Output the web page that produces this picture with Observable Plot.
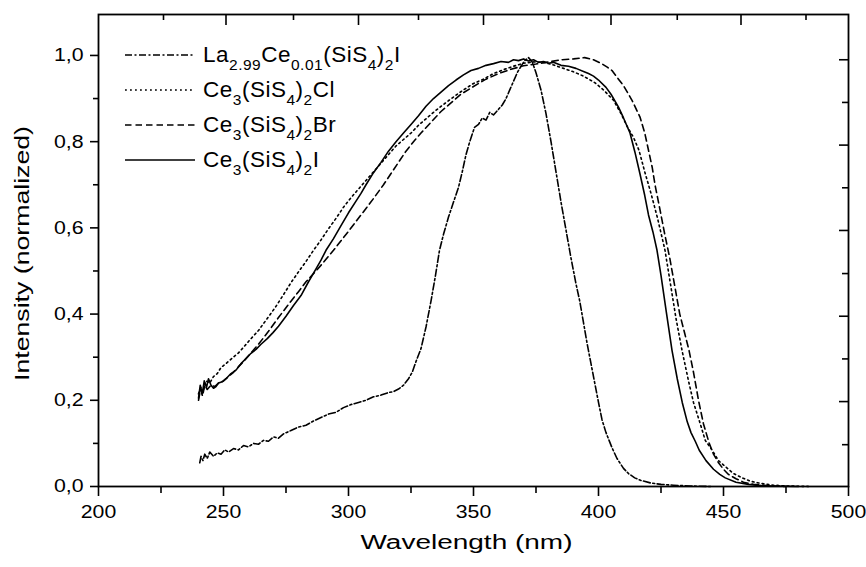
<!DOCTYPE html>
<html><head><meta charset="utf-8">
<script src="https://cdn.jsdelivr.net/npm/d3@7"></script>
<script src="https://cdn.jsdelivr.net/npm/@observablehq/plot@0.6"></script>
<style>
body{margin:0;background:#fff;}
#wrap{position:relative;width:866px;height:567px;font-family:"Liberation Sans",Arial,sans-serif;color:#000;}
.row{position:absolute;left:125px;height:36px;display:flex;align-items:center;font-size:22.5px;letter-spacing:0.5px;white-space:nowrap;}
.row svg{margin-right:8px;flex:none}
.row sub{font-size:15.5px;position:relative;top:8px;vertical-align:baseline;line-height:0}
</style></head><body><div id="wrap"></div>
<script>
// ---- tick values ----
const xMajor = [200, 250, 300, 350, 400, 450, 500];
const xMinor = [225, 275, 325, 375, 425, 475];
const yMajor = [0, 0.2, 0.4, 0.6, 0.8, 1.0];
const yMinor = [0.1, 0.3, 0.5, 0.7, 0.9];
const topMajor = [251, 304, 354, 405, 457];
const topMinor = [226, 278, 328, 380, 431.5, 483];
const rightMajor = [0.197, 0.395, 0.594, 0.792, 0.99];
const rightMinor = [0.097, 0.296, 0.494, 0.693, 0.891];

// ---- titles ----
const xTitle = "Wavelength (nm)";
const yTitle = "Intensity (normalized)";

// ---- series names (legend) ----
const legendLabels = [
  "La<sub>2.99</sub>Ce<sub>0.01</sub>(SiS<sub>4</sub>)<sub>2</sub>I",
  "Ce<sub>3</sub>(SiS<sub>4</sub>)<sub>2</sub>Cl",
  "Ce<sub>3</sub>(SiS<sub>4</sub>)<sub>2</sub>Br",
  "Ce<sub>3</sub>(SiS<sub>4</sub>)<sub>2</sub>I"
];

// ---- series values [wavelength nm, normalized intensity] ----
const laCe = [[240.5,0.055],[241,0.07],[241.8,0.06],[242.5,0.075],[243.5,0.065],[244.5,0.08],[246,0.07],[247.5,0.078],[249,0.075],[250.5,0.085],[252,0.08],[254,0.088],[256,0.085],[258,0.095],[260,0.092],[262,0.1],[264,0.098],[266,0.107],[268,0.105],[270,0.115],[272,0.112],[274,0.122],[277,0.13],[280,0.138],[283,0.142],[286,0.152],[289,0.16],[292,0.168],[295,0.172],[298,0.183],[301,0.19],[304,0.195],[307,0.2],[310,0.208],[313,0.212],[316,0.218],[318,0.22],[320,0.226],[322,0.235],[324,0.25],[325.5,0.265],[327,0.29],[329,0.32],[331,0.37],[333,0.43],[334.8,0.49],[336.4,0.548],[338,0.585],[340,0.625],[342,0.66],[344,0.694],[345.5,0.73],[347,0.77],[348.5,0.8],[350.4,0.833],[352,0.84],[353.5,0.855],[355,0.85],[356.5,0.868],[358,0.862],[360,0.875],[361.5,0.885],[363,0.9],[364.5,0.92],[366,0.94],[367.5,0.96],[369,0.975],[370.5,0.988],[372,0.995],[373.5,0.985],[375,0.96],[377,0.92],[379,0.865],[381,0.8],[383,0.73],[385,0.66],[387,0.595],[389,0.53],[391,0.47],[392.5,0.43],[394,0.38],[395.5,0.33],[397,0.285],[398.5,0.24],[400,0.195],[401.4,0.155],[403,0.125],[405.4,0.09],[407.4,0.065],[410,0.042],[412,0.03],[414.5,0.02],[417,0.014],[421,0.008],[425,0.005],[430,0.003],[437,0.001],[445,0]];

const ceCl = [[240,0.215],[241,0.23],[242,0.225],[243,0.245],[244.5,0.24],[246,0.255],[247.5,0.262],[249,0.276],[251,0.285],[253.5,0.298],[256,0.31],[258,0.323],[261,0.343],[264,0.362],[267.8,0.392],[271,0.418],[274,0.445],[277,0.473],[280,0.498],[283,0.522],[286,0.548],[289,0.572],[292,0.598],[295,0.622],[298,0.648],[301,0.67],[304,0.69],[307,0.71],[310,0.73],[313,0.75],[316,0.77],[319,0.79],[322,0.805],[325,0.82],[328,0.838],[331,0.853],[334,0.868],[337,0.882],[340,0.895],[343,0.908],[346,0.92],[350,0.935],[354,0.945],[358,0.958],[362,0.967],[366,0.975],[370,0.982],[374,0.985],[378,0.984],[382,0.978],[386,0.97],[390,0.962],[394,0.952],[398.5,0.937],[402,0.92],[406,0.896],[409,0.865],[411.5,0.835],[414,0.81],[416.2,0.78],[418.5,0.73],[421,0.68],[423.5,0.625],[425.4,0.578],[426.6,0.548],[428.5,0.48],[431,0.39],[433.4,0.316],[436,0.245],[438,0.195],[440.3,0.153],[442.7,0.107],[445.5,0.084],[448,0.06],[451,0.045],[454,0.03],[457.5,0.02],[461,0.012],[465,0.007],[470,0.003],[476,0.001],[485,0]];

const ceBr = [[240,0.2],[240.8,0.225],[241.6,0.21],[242.5,0.235],[243.5,0.225],[245,0.235],[246.5,0.232],[248,0.24],[250,0.245],[252,0.255],[254,0.265],[256,0.278],[258,0.29],[261,0.31],[264,0.33],[268,0.36],[272,0.392],[277,0.43],[280,0.452],[283,0.475],[287,0.5],[290,0.52],[294,0.548],[297,0.57],[300,0.592],[303,0.615],[307,0.645],[310,0.668],[314,0.7],[317,0.726],[320,0.752],[323,0.778],[326,0.8],[329,0.82],[333,0.845],[337,0.87],[341,0.89],[345,0.91],[350,0.928],[355,0.945],[360,0.958],[365,0.968],[370,0.976],[375,0.98],[380,0.985],[385,0.99],[390,0.992],[394.5,0.995],[398,0.99],[401,0.982],[403.5,0.973],[405.4,0.965],[408,0.945],[410,0.93],[413.4,0.896],[416.6,0.857],[418.5,0.82],[420,0.78],[421.5,0.74],[422.6,0.7],[424.5,0.645],[426.5,0.585],[428.5,0.53],[430.5,0.465],[432.5,0.4],[434.5,0.355],[436.2,0.316],[438,0.265],[440,0.2],[442,0.145],[444.3,0.1],[446,0.075],[448,0.055],[450,0.04],[452,0.028],[455,0.018],[458,0.01],[462,0.005],[467,0.002],[475,0]];

const ceI = [[240,0.205],[240.7,0.235],[241.5,0.215],[242.3,0.245],[243.2,0.23],[244,0.25],[245,0.235],[246,0.228],[247,0.232],[248,0.24],[249.5,0.243],[251,0.25],[253,0.262],[255,0.27],[257,0.285],[259,0.297],[261,0.309],[263,0.318],[265,0.33],[267.5,0.343],[269.8,0.357],[272,0.372],[275,0.395],[278,0.42],[281,0.443],[284,0.475],[287,0.505],[289,0.525],[291,0.548],[294,0.575],[297,0.605],[300,0.635],[303,0.662],[305,0.68],[307,0.7],[310,0.728],[313,0.752],[316,0.778],[319,0.8],[322,0.82],[325,0.84],[328,0.86],[331,0.882],[334,0.9],[337,0.915],[340,0.93],[343,0.943],[346,0.955],[349,0.965],[352,0.97],[355,0.977],[358,0.981],[361,0.986],[364,0.984],[366,0.99],[368,0.988],[370,0.992],[372,0.987],[374,0.99],[376,0.984],[378,0.986],[380,0.982],[382,0.984],[385,0.977],[388,0.975],[391,0.97],[394,0.963],[396,0.958],[398,0.952],[400,0.943],[403,0.926],[405,0.91],[408,0.88],[410,0.855],[412.6,0.82],[414.6,0.775],[416.6,0.725],[418.5,0.675],[420,0.63],[421.8,0.59],[423.4,0.548],[425,0.49],[427,0.41],[429.4,0.316],[431.5,0.25],[433.5,0.195],[435.5,0.15],[437,0.125],[438.7,0.105],[440.3,0.084],[443,0.06],[446,0.04],[448.5,0.028],[450.7,0.02],[455,0.01],[460,0.005],[465,0.002],[470,0.001],[480,0]];

// ---- styles ----
const seriesList = [laCe, ceCl, ceBr, ceI];
const dashStyles = ["7,2.5,2,2.5", "1.8,3.2", "6.5,4", "none"];
const lineWidth = 1.6;

const W = 866, H = 567, mL = 98, mR = 18, mT = 14, mB = 81;
const innerW = W - mL - mR, innerH = H - mT - mB;
const fmt = d => d.toFixed(1).replace(".", ",");
const tickFont = 18.5;
const tickStretch = 1.15;

const plot = Plot.plot({
  width: W, height: H,
  marginLeft: mL, marginRight: mR, marginTop: mT, marginBottom: mB,
  style: {fontFamily: '"Liberation Sans", Arial, sans-serif', fontSize: tickFont + "px", color: "#000", background: "#fff"},
  x: {domain: [200, 500]},
  y: {domain: [0, 1.095]},
  marks: [
    ...seriesList.map((s, i) => Plot.line(s, {x: d => d[0], y: d => d[1], stroke: "#000", strokeWidth: lineWidth, strokeDasharray: dashStyles[i]})),
    Plot.frame({stroke: "#000", strokeWidth: 1.8}),
    Plot.axisX(xMajor, {tickSize: 10, tickPadding: 8, fontSize: tickFont, strokeWidth: 1.6, tickFormat: d => String(d), label: null}),
    Plot.axisX(xMinor, {tickSize: 7, strokeWidth: 1.6, tickFormat: () => "", label: null}),
    Plot.axisY(yMajor, {tickSize: 8, tickPadding: 7, fontSize: tickFont, strokeWidth: 1.6, tickFormat: fmt, label: null}),
    Plot.axisY(yMinor, {tickSize: 5, strokeWidth: 1.6, tickFormat: () => "", label: null}),
    Plot.tickX(topMajor, {x: d => d, insetBottom: innerH - 11, stroke: "#000", strokeWidth: 1.6}),
    Plot.tickX(topMinor, {x: d => d, insetBottom: innerH - 6, stroke: "#000", strokeWidth: 1.6}),
    Plot.tickY(rightMajor, {y: d => d, insetLeft: innerW - 9, stroke: "#000", strokeWidth: 1.6}),
    Plot.tickY(rightMinor, {y: d => d, insetLeft: innerW - 6, stroke: "#000", strokeWidth: 1.6}),
    Plot.text([xTitle], {text: d => d, frameAnchor: "bottom", textAnchor: "middle", lineAnchor: "bottom", dy: 62, dx: -7, fontSize: 20}),
    Plot.text([yTitle], {text: d => d, frameAnchor: "left", textAnchor: "middle", rotate: -90, lineAnchor: "middle", dx: -76, dy: 3, fontSize: 20})
  ]
});
const wrap = document.getElementById("wrap");
wrap.appendChild(plot);

// tick labels: the reference glyphs are slightly wider than Arial — stretch them horizontally
plot.querySelectorAll('g[aria-label$="tick label"] text').forEach(t => {
  const len = t.getComputedTextLength();
  if (len > 0) { t.setAttribute("textLength", (len * tickStretch).toFixed(1)); t.setAttribute("lengthAdjust", "spacingAndGlyphs"); }
});

// stretch the titles horizontally to their measured widths in the reference
plot.querySelectorAll("text").forEach(t => {
  if (t.textContent === xTitle) { t.setAttribute("textLength", 212); t.setAttribute("lengthAdjust", "spacingAndGlyphs"); }
  if (t.textContent === yTitle) { t.setAttribute("textLength", 255); t.setAttribute("lengthAdjust", "spacingAndGlyphs"); }
});

// ---- legend (HTML overlay for subscripts) ----
const rowCenters = [55, 90, 125, 160];
legendLabels.forEach((lab, i) => {
  const row = document.createElement("div");
  row.className = "row";
  row.style.top = (rowCenters[i] - 18) + "px";
  const da = dashStyles[i] === "none" ? "" : `stroke-dasharray="${dashStyles[i]}"`;
  row.innerHTML = `<svg width="70" height="6"><line x1="0" y1="3" x2="70" y2="3" stroke="#000" stroke-width="${lineWidth}" ${da}/></svg><span>${lab}</span>`;
  wrap.appendChild(row);
});
</script>
</body></html>
